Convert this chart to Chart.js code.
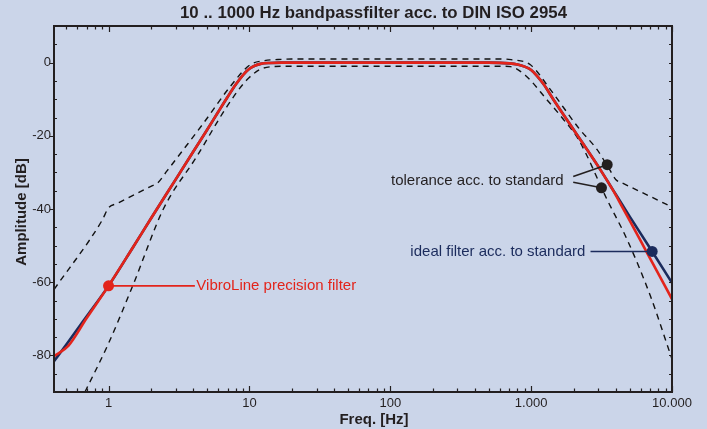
<!DOCTYPE html>
<html>
<head>
<meta charset="utf-8">
<title>10 .. 1000 Hz bandpassfilter acc. to DIN ISO 2954</title>
<script src="https://cdn.jsdelivr.net/npm/chart.js@4.4.1/dist/chart.umd.min.js"></script>
<style>
  html, body { margin: 0; padding: 0; background: #cbd5e9; }
  canvas { display: block; }
</style>
</head>
<body>
<canvas id="chart" width="707" height="429"></canvas>
<script>
// values: frequency in Hz, amplitude in dB
const idealFreq = [0.41, 0.52, 0.7, 1, 1.5, 2, 3, 4, 5, 6, 7, 8, 9, 10, 11, 12, 14, 17, 500, 700, 800, 900, 1000, 1100, 1231, 1446, 2009, 3105, 3800, 5000, 7230, 10000];
const idealDb   = [-81.6, -76.2, -69.3, -61, -50.3, -42.6, -31.9, -24.3, -18.4, -13.5, -9.4, -6.0, -3.4, -1.7, -0.8, -0.35, -0.1, 0, 0, -0.2, -0.5, -1.1, -2.0, -3.6, -6.0, -10.2, -18.4, -29.3, -34.7, -42.0, -51.6, -60.2];

const vibroFreq = [0.41, 0.52, 0.7, 1, 1.5, 2, 3, 4, 5, 6, 7, 8, 9, 10, 11, 12, 14, 17, 500, 700, 800, 900, 1000, 1100, 1231, 1446, 2009, 3105, 3800, 4400, 5000, 6640, 10000];
const vibroDb   = [-80.2, -77.3, -69.8, -61, -50.3, -42.6, -31.9, -24.3, -18.4, -13.5, -9.4, -6.0, -3.4, -1.7, -0.8, -0.35, -0.1, 0, 0, -0.2, -0.5, -1.1, -2.0, -3.6, -6.0, -10.2, -18.4, -29.3, -34.8, -39.2, -43.1, -51.9, -64.6];

const tolUpperFreq = [0.41, 0.9, 1.0, 1.15, 2.0, 2.23, 2.6, 3.41, 4.73, 7.32, 10.1, 12.6, 17.5, 20, 600, 720, 988, 1371, 2177, 2942, 3600, 4000, 4500, 7030, 10000];
const tolUpperDb   = [-62, -43.1, -39.7, -38.5, -33.8, -32.9, -29.6, -23.7, -16.5, -6.5, -0.6, 0.5, 0.9, 1, 1, 0.8, -0.6, -7.4, -17.9, -23.8, -29.2, -32.0, -33.0, -36.6, -39.5];

const tolLowerFreq = [0.68, 1.0, 1.52, 2.45, 4.24, 6.93, 9.6, 12.6, 17.5, 20, 650, 713, 912, 1298, 1702, 2177, 3467, 4808, 7030, 10000];
const tolLowerDb   = [-90, -76.7, -60, -40, -25.6, -12, -4.7, -1.5, -1.0, -1, -1, -1.1, -3.5, -10.2, -15.6, -21.1, -37.5, -48.4, -63.8, -81];

const xTicks = [1, 10, 100, 1000, 10000];
const xTickLabels = ["1", "10", "100", "1.000", "10.000"];
const yTicks = [-80, -60, -40, -20, 0];

// label markers (frequency, dB)
const vibroMark = { x: 1, y: -61 };
const idealMark = { x: 7230, y: -51.6 };
const tolMarks = [{ x: 3467, y: -27.9 }, { x: 3157, y: -34.2 }];

const BG = "#cbd5e9";
const INK = "#231f20";
const NAVY = "#1b2b5c";
const RED = "#e3241b";
const FONT = "Arial, 'Liberation Sans', sans-serif";

const pts = (fs, ds) => fs.map((f, i) => ({ x: f, y: ds[i] }));

const curve = (data, color, order) => ({
  data, showLine: true, borderColor: color, borderWidth: 2.6,
  pointRadius: 0, cubicInterpolationMode: "monotone", order
});
const tolerance = (data, order) => ({
  data, showLine: true, borderColor: "#111", borderWidth: 1.4, borderDash: [6, 5],
  pointRadius: 0, cubicInterpolationMode: "monotone", order
});
const dot = (p, color, order) => ({
  data: [p], showLine: false, pointRadius: 5.5, pointBackgroundColor: color,
  pointBorderColor: color, pointBorderWidth: 0, order
});
const leader = (a, b, color, order) => ({
  data: [a, b], showLine: true, borderColor: color, borderWidth: 1.6, pointRadius: 0, order
});

const frame = {
  id: "frame",
  beforeDraw(chart) {
    const ctx = chart.ctx;
    ctx.save();
    ctx.fillStyle = BG;
    ctx.fillRect(0, 0, chart.width, chart.height);
    ctx.restore();
  },
  afterDraw(chart) {
    const { ctx, chartArea: a, scales: { x, y } } = chart;
    ctx.save();
    ctx.strokeStyle = INK;
    ctx.lineWidth = 1.2;
    ctx.beginPath();
    // minor + major ticks on bottom / top
    for (let d = 0.1; d <= 10000; d *= 10) {
      for (let m = 1; m <= 9; m++) {
        const v = m * d;
        if (v < 0.41 || v > 10001) continue;
        const px = Math.round(x.getPixelForValue(v)) + 0.5;
        const len = m === 1 ? 6 : 3.5;
        ctx.moveTo(px, a.bottom); ctx.lineTo(px, a.bottom - len);
        ctx.moveTo(px, a.top); ctx.lineTo(px, a.top + len);
      }
    }
    for (let v = -90; v <= 10; v += 5) {
      const py = Math.round(y.getPixelForValue(v)) + 0.5;
      if (yTicks.includes(v)) {
        ctx.moveTo(a.left, py); ctx.lineTo(a.left - 4, py);
      } else {
        ctx.moveTo(a.left, py); ctx.lineTo(a.left + 3, py);
      }
      ctx.moveTo(a.right, py); ctx.lineTo(a.right - 3, py);
    }
    ctx.stroke();

    ctx.lineWidth = 2;
    ctx.strokeRect(a.left, a.top, a.right - a.left, a.bottom - a.top);

    // titles
    ctx.fillStyle = INK;
    ctx.textBaseline = "middle";
    ctx.textAlign = "center";
    ctx.font = "bold 16px " + FONT;
    const title = "10 .. 1000 Hz bandpassfilter acc. to DIN ISO 2954";
    const sx = 387 / ctx.measureText(title).width;
    ctx.save();
    ctx.translate(373.5, 14);
    ctx.scale(sx, 1);
    ctx.fillText(title, 0, 0);
    ctx.restore();

    ctx.font = "bold 15px " + FONT;
    ctx.fillText("Freq. [Hz]", 374, 420);
    ctx.save();
    ctx.translate(22, (a.top + a.bottom) / 2 + 3);
    ctx.rotate(-Math.PI / 2);
    ctx.fillText("Amplitude [dB]", 0, 0);
    ctx.restore();

    // annotation labels
    ctx.font = "15px " + FONT;
    ctx.textAlign = "left";
    ctx.fillStyle = RED;
    ctx.fillText("VibroLine precision filter", x.getPixelForValue(4.2), y.getPixelForValue(vibroMark.y));
    ctx.textAlign = "right";
    ctx.fillStyle = INK;
    ctx.fillText("tolerance acc. to standard", x.getPixelForValue(1700), y.getPixelForValue(-32.2));
    ctx.fillStyle = NAVY;
    ctx.fillText("ideal filter acc. to standard", x.getPixelForValue(2430), y.getPixelForValue(idealMark.y));
    ctx.restore();
  }
};

new Chart(document.getElementById("chart"), {
  type: "scatter",
  data: {
    datasets: [
      dot(vibroMark, RED, 0),
      dot(idealMark, NAVY, 1),
      dot(tolMarks[0], INK, 1),
      dot(tolMarks[1], INK, 1),
      leader(vibroMark, { x: 4.1, y: vibroMark.y }, RED, 2),
      leader({ x: 2640, y: idealMark.y }, idealMark, NAVY, 2),
      leader({ x: 1990, y: -31.1 }, tolMarks[0], INK, 2),
      leader({ x: 1990, y: -32.7 }, tolMarks[1], INK, 2),
      curve(pts(vibroFreq, vibroDb), RED, 3),
      curve(pts(idealFreq, idealDb), NAVY, 4),
      tolerance(pts(tolUpperFreq, tolUpperDb), 5),
      tolerance(pts(tolLowerFreq, tolLowerDb), 5)
    ]
  },
  options: {
    responsive: false,
    animation: false,
    layout: { padding: { top: 26, right: 35, left: 0, bottom: 0 } },
    plugins: { legend: { display: false }, tooltip: { enabled: false }, title: { display: false } },
    scales: {
      x: {
        type: "logarithmic",
        min: 0.41,
        max: 10000,
        grid: { display: false, drawTicks: false },
        border: { display: false },
        ticks: {
          autoSkip: false, maxRotation: 0, padding: 4, color: INK,
          font: { size: 13, family: FONT },
          callback: (v, i) => xTickLabels[i]
        },
        afterBuildTicks: s => { s.ticks = xTicks.map(v => ({ value: v })); },
        afterFit: s => { s.height = 37; }
      },
      y: {
        min: -90,
        max: 10,
        grid: { display: false, drawTicks: false },
        border: { display: false },
        ticks: {
          padding: 3, color: INK,
          font: { size: 13, family: FONT },
          callback: v => String(v)
        },
        afterBuildTicks: s => { s.ticks = yTicks.map(v => ({ value: v })); },
        afterFit: s => { s.width = 54; }
      }
    }
  },
  plugins: [frame]
});
</script>
</body>
</html>
